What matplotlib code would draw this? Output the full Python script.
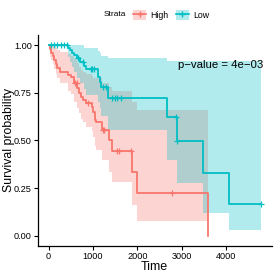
import numpy as np
import matplotlib
matplotlib.use("Agg")
import matplotlib.pyplot as plt
from matplotlib.patches import Patch
from matplotlib.lines import Line2D

plt.rcParams["font.family"] = ["Liberation Sans", "DejaVu Sans"]

# Kaplan-Meier steps (time, survival, CI lower, CI upper)
high_time = [0, 30, 60, 95, 130, 165, 200, 250, 440, 500, 570, 650, 690, 730,
             780, 840, 970, 1010, 1047, 1060, 1198, 1369, 1423, 1874, 1986, 3585]
high_surv = [1.0, 0.98, 0.96, 0.94, 0.92, 0.90, 0.88, 0.857, 0.843, 0.83, 0.80,
             0.775, 0.75, 0.73, 0.712, 0.695, 0.677, 0.651, 0.607, 0.598, 0.555,
             0.503, 0.445, 0.333, 0.223, 0.0]
high_lower = [1.0, 0.94, 0.92, 0.90, 0.875, 0.85, 0.83, 0.80, 0.76, 0.745, 0.70,
              0.67, 0.645, 0.615, 0.595, 0.57, 0.55, 0.52, 0.47, 0.45, 0.398,
              0.337, 0.284, 0.162, 0.08, 0.08]
high_upper = [1.0, 1.0, 1.0, 0.995, 0.99, 0.985, 0.975, 0.965, 0.955, 0.945,
              0.925, 0.905, 0.885, 0.87, 0.86, 0.85, 0.84, 0.83, 0.83, 0.83,
              0.80, 0.78, 0.76, 0.70, 0.66, 0.66]
high_censor = [600, 635, 896, 1221, 1257, 1536, 1588, 1853, 2775]

low_time = [0, 440, 485, 530, 580, 640, 700, 790, 840, 1115, 1150, 1190, 1347,
            2662, 2887, 3473, 4072, 4786]
low_surv = [1.0, 0.985, 0.972, 0.96, 0.948, 0.93, 0.912, 0.89, 0.872, 0.835,
            0.808, 0.78, 0.72, 0.621, 0.497, 0.331, 0.168, 0.168]
low_lower = [1.0, 0.94, 0.91, 0.885, 0.86, 0.83, 0.80, 0.77, 0.74, 0.70, 0.67,
             0.63, 0.555, 0.40, 0.277, 0.122, 0.031, 0.031]
low_upper = [1.0, 1.0, 1.0, 1.0, 1.0, 1.0, 1.0, 0.985, 0.985, 0.97, 0.96, 0.945,
             0.93, 0.915, 0.915, 0.915, 0.915, 0.915]
low_censor = [60, 130, 200, 270, 340, 410, 670, 777, 950, 986, 1025, 1228, 1288,
              1423, 1498, 1550, 1626, 2870, 2900, 4786]

x_ticks = [0, 1000, 2000, 3000, 4000]
y_ticks = [0.0, 0.25, 0.5, 0.75, 1.0]
pval_text = "p\u2212value = 4e\u221203"

high_col = "#F8766D"
low_col = "#00BFC4"

fig = plt.figure(figsize=(2.75, 2.75), dpi=100)
ax = fig.add_axes([38 / 275, 29.5 / 275, 233.5 / 275, 210 / 275])


def surv_at(times, surv, t):
    i = np.searchsorted(times, t, side="right") - 1
    return np.asarray(surv)[i]


for times, surv, lo, hi, cens, col in [
    (high_time, high_surv, high_lower, high_upper, high_censor, high_col),
    (low_time, low_surv, low_lower, low_upper, low_censor, low_col),
]:
    t = np.asarray(times, dtype=float)
    s = np.asarray(surv)
    lo = np.asarray(lo)
    hi = np.asarray(hi)
    if s[-1] == 0:
        # band stops at the last event
        ax.fill_between(t, np.r_[lo[:-1], lo[-2]], np.r_[hi[:-1], hi[-2]],
                        step="post", color=col, alpha=0.3, linewidth=0)
    else:
        ax.fill_between(t, lo, hi, step="post", color=col, alpha=0.3,
                        linewidth=0)
    ax.step(t, s, where="post", color=col, lw=1.3)
    cs = [surv_at(t, s, c) for c in cens]
    ax.plot(cens, cs, linestyle="none", marker="+", ms=4.5, mew=0.9, color=col)

ax.text(3880, 0.895, pval_text, ha="center", va="center", fontsize=8.2)

ax.set_xlim(-239, 5025)
ax.set_ylim(-0.05, 1.05)
ax.set_xticks(x_ticks)
ax.set_yticks(y_ticks)
ax.set_yticklabels([f"{v:.2f}" for v in y_ticks])
ax.tick_params(labelsize=6.6, length=3, width=0.8, color="black", pad=1.5)
for side in ["top", "right"]:
    ax.spines[side].set_visible(False)
for side in ["left", "bottom"]:
    ax.spines[side].set_linewidth(0.9)
ax.set_xlabel("Time", fontsize=9, labelpad=0)
ax.set_ylabel("Survival probability", fontsize=8.8)
ax.yaxis.set_label_coords(-0.1, 0.5)

# legend on top, ggplot style
fig.text(115 / 275, 1 - 15 / 275, "Strata", fontsize=6, ha="center",
         va="center")
handles = [
    (Patch(facecolor=high_col, alpha=0.3, edgecolor="none"),
     Line2D([], [], color=high_col, lw=1.2, marker="+", ms=4.5)),
    (Patch(facecolor=low_col, alpha=0.3, edgecolor="none"),
     Line2D([], [], color=low_col, lw=1.2, marker="+", ms=4.5)),
]
fig.legend(handles, ["High", "Low"], loc="center left",
           bbox_to_anchor=(133 / 275, 1 - 15 / 275), ncol=2, frameon=False,
           fontsize=6.3, handlelength=1.5, handleheight=1.5,
           handletextpad=0.5, columnspacing=0.8, borderpad=0, borderaxespad=0)

fig.savefig("out.png", dpi=100)
